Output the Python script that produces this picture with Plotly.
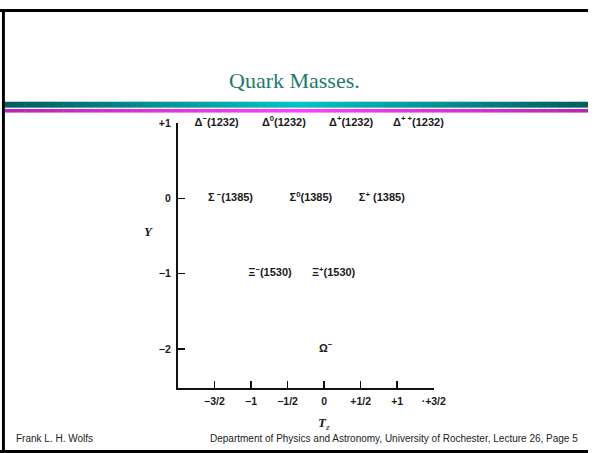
import plotly.graph_objects as go

# ---- data ----
particles = ["Δ<sup>−</sup>(1232)", "Δ<sup>0</sup>(1232)", "Δ<sup>+</sup>(1232)", "Δ<sup>+ +</sup>(1232)",
             "Σ<sup> −</sup>(1385)", "Σ<sup>0</sup>(1385)", "Σ<sup>+</sup> (1385)",
             "Ξ<sup>−</sup>(1530)", "Ξ<sup>+</sup>(1530)",
             "Ω<sup>−</sup>"]
label_tz = [-1.47, -0.55, 0.37, 1.29,
            -1.28, -0.18, 0.79,
            -0.74, 0.13,
            0.02]
label_y = [1, 1, 1, 1,
           0, 0, 0,
           -1, -1,
           -2]
x_tickvals = [-1.5, -1.0, -0.5, 0.0, 0.5, 1.0, 1.5]
x_ticktext = ["−3/2", "−1", "−1/2", "0", "+1/2", "+1", "·+3/2"]
y_tickvals = [1, 0, -1, -2]
y_ticktext = ["+1", "0", "−1", "−2"]

W, H = 600, 453
def px(x):
    return x / W
def py(y):
    return 1 - y / H

fig = go.Figure()
fig.add_trace(go.Scatter(
    x=label_tz, y=label_y, mode="text", text=particles,
    textposition="middle center", cliponaxis=False, showlegend=False,
    textfont=dict(family="Liberation Sans", size=11, color="#1a1a1a", weight="bold"),
    hoverinfo="skip"))

shapes = []
# slide frame (left, top, bottom)
shapes.append(dict(type="rect", xref="paper", yref="paper", x0=px(0), x1=px(600), y0=py(6), y1=py(3),
                   line=dict(width=0), fillcolor="black"))
shapes.append(dict(type="rect", xref="paper", yref="paper", x0=px(2), x1=px(5), y0=py(453), y1=py(3),
                   line=dict(width=0), fillcolor="black"))
shapes.append(dict(type="rect", xref="paper", yref="paper", x0=px(0), x1=px(600), y0=py(453), y1=py(450),
                   line=dict(width=0), fillcolor="black"))

# gradient bars
def lerp(c1, c2, t):
    return tuple(int(round(a + (b - a) * t)) for a, b in zip(c1, c2))

teal_edge, teal_mid = (0, 92, 92), (0, 196, 196)
mag_edge, mag_mid = (178, 40, 178), (255, 64, 255)
N = 60
x_start, x_end = 5, 600
for i in range(N):
    xa = x_start + (x_end - x_start) * i / N
    xb = min(x_end, x_start + (x_end - x_start) * (i + 1) / N + 0.5)
    t = (i + 0.5) / N
    f = 1 - abs(2 * t - 1)
    c = lerp(teal_edge, teal_mid, f)
    m = lerp(mag_edge, mag_mid, f)
    shapes.append(dict(type="rect", xref="paper", yref="paper", x0=px(xa), x1=px(xb),
                       y0=py(103), y1=py(97), line=dict(width=0), fillcolor="rgb(%d,%d,%d)" % c, layer="below"))
    shapes.append(dict(type="rect", xref="paper", yref="paper", x0=px(xa), x1=px(xb),
                       y0=py(108), y1=py(104.3), line=dict(width=0), fillcolor="rgb(%d,%d,%d)" % m, layer="below"))

annotations = [
    dict(text="Quark Masses.", x=px(300), y=py(76), xref="paper", yref="paper", showarrow=False,
         xanchor="center", yanchor="middle",
         font=dict(family="Liberation Serif", size=22, color="#1d7a6c")),
    dict(text="<i><b>Y</b></i>", x=px(152), y=py(229), xref="paper", yref="paper", showarrow=False,
         xanchor="center", yanchor="middle",
         font=dict(family="Liberation Serif", size=13, color="#1a1a1a")),
    dict(text="<i><b>T</b><sub>z</sub></i>", x=px(331), y=py(423), xref="paper", yref="paper", showarrow=False,
         xanchor="center", yanchor="middle",
         font=dict(family="Liberation Serif", size=13, color="#1a1a1a")),
    dict(text="Frank L. H. Wolfs", x=px(14), y=py(438), xref="paper", yref="paper", showarrow=False,
         xanchor="left", yanchor="middle",
         font=dict(family="Liberation Sans", size=10, color="#222")),
    dict(text="Department of Physics and Astronomy, University of Rochester, Lecture 26, Page 5",
         x=px(592), y=py(438), xref="paper", yref="paper", showarrow=False,
         xanchor="right", yanchor="middle",
         font=dict(family="Liberation Sans", size=10, color="#222")),
]

fig.update_layout(
    width=W, height=H, margin=dict(l=0, r=0, t=0, b=0),
    paper_bgcolor="white", plot_bgcolor="white", dragmode=False, hovermode=False,
    shapes=shapes, annotations=annotations,
    xaxis=dict(domain=[px(181.5), px(442.6)], range=[-2.0, 1.5], showgrid=False, zeroline=False,
               showline=True, linecolor="#111", linewidth=2,
               ticks="inside", ticklen=7, tickwidth=1.5, tickcolor="#111",
               tickvals=x_tickvals, ticktext=x_ticktext, ticklabelstandoff=2,
               tickfont=dict(family="Liberation Sans", size=10.5, color="#1a1a1a", weight="bold"),
               fixedrange=True),
    yaxis=dict(domain=[py(387.3), py(118.7)], range=[-2.52, 1.0], showgrid=False, zeroline=False,
               showline=True, linecolor="#111", linewidth=2,
               ticks="inside", ticklen=7, tickwidth=1.5, tickcolor="#111",
               tickvals=y_tickvals, ticktext=y_ticktext, ticklabelstandoff=3,
               tickfont=dict(family="Liberation Sans", size=10.5, color="#1a1a1a", weight="bold"),
               fixedrange=True),
)

fig.write_html("out.html", config={"displayModeBar": False, "staticPlot": True},
               post_script="document.body.style.margin='0';document.body.style.padding='0';"
                           "document.body.style.overflow='hidden';")
